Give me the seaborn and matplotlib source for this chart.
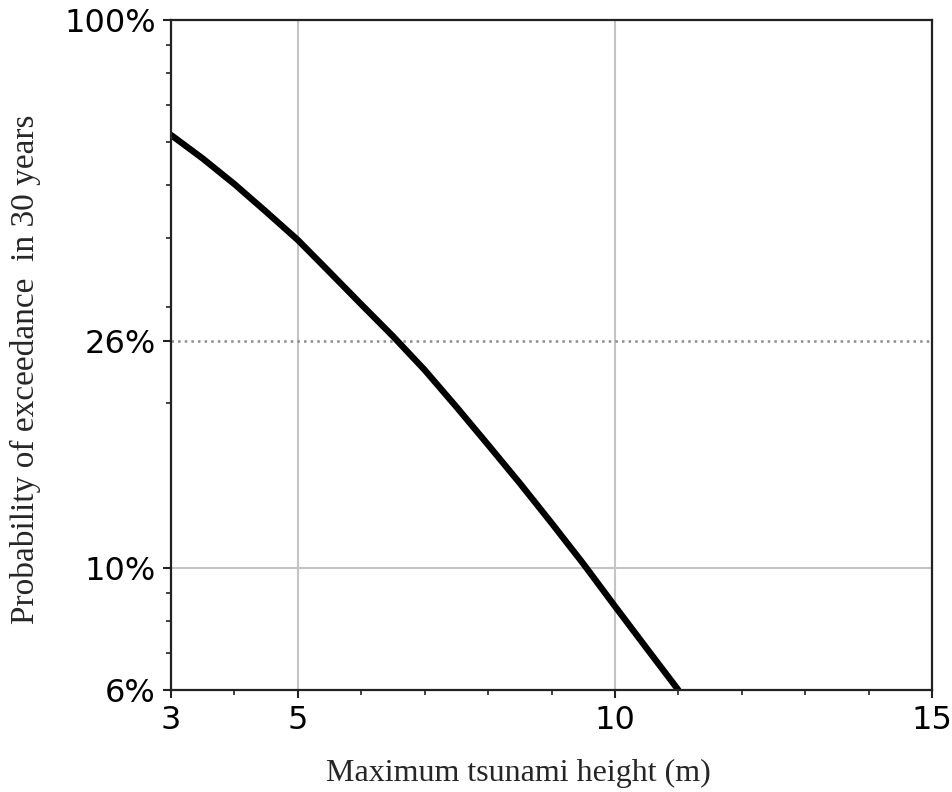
import seaborn as sns
import matplotlib.pyplot as plt
from matplotlib.ticker import FixedLocator, MultipleLocator, NullFormatter, LogLocator

# (height in m, exceedance probability in %)
height = [3, 3.5, 4, 4.5, 5, 5.5, 6, 6.5, 7, 7.5, 8, 8.5, 9, 9.5, 10, 10.5, 11]
prob = [61.7, 55.9, 50.2, 44.7, 39.7, 34.7, 30.3, 26.5, 23.0, 19.7, 16.8,
        14.3, 12.1, 10.2, 8.53, 7.15, 6.0]

yticks = [6, 10, 26, 100]
ytick_labels = ['6%', '10%', '26%', '100%']
xticks = [3, 5, 10, 15]

sns.set_style('ticks')
plt.rcParams['font.family'] = ['DejaVu Sans']

fig = plt.figure(figsize=(9.52, 7.92), dpi=100)
ax = fig.add_axes([171/952, 1-690/792, (932-171)/952, (690-20)/792])

# grid drawn by hand so the 26% line can be dotted
for xv in [5, 10]:
    ax.axvline(xv, color='#c4c4c4', lw=1.5, zorder=0)
ax.axhline(10, color='#c4c4c4', lw=1.5, zorder=0)
ax.axhline(26, color='#8c8c8c', lw=1.8, ls=':', zorder=0)

sns.lineplot(x=height, y=prob, color='black', lw=4.6, ax=ax)

ax.set_yscale('log')
ax.set_xlim(3, 15)
ax.set_ylim(6, 100)
ax.yaxis.set_major_locator(FixedLocator(yticks))
ax.set_yticklabels(ytick_labels)
ax.yaxis.set_minor_locator(LogLocator(base=10, subs=range(2, 10)))
ax.yaxis.set_minor_formatter(NullFormatter())
ax.xaxis.set_major_locator(FixedLocator(xticks))
ax.set_xticklabels([str(v) for v in xticks])
ax.xaxis.set_minor_locator(MultipleLocator(1))

ax.tick_params(which='major', length=6, width=1.5, labelsize=23, pad=5,
               color='#222222', labelcolor='black')
ax.tick_params(which='minor', length=3.5, width=1.2, color='#222222')
for s in ax.spines.values():
    s.set_linewidth(1.6)
    s.set_color('#222222')

ax.set_xlabel('Maximum tsunami height (m)', family='Liberation Serif', fontsize=23,
              labelpad=16, x=0.456)
ax.set_ylabel('Probability of exceedance  in 30 years', family='Liberation Serif', fontsize=24)
ax.yaxis.set_label_coords(-0.171, 0.478)

plt.savefig('out.png', dpi=100)
